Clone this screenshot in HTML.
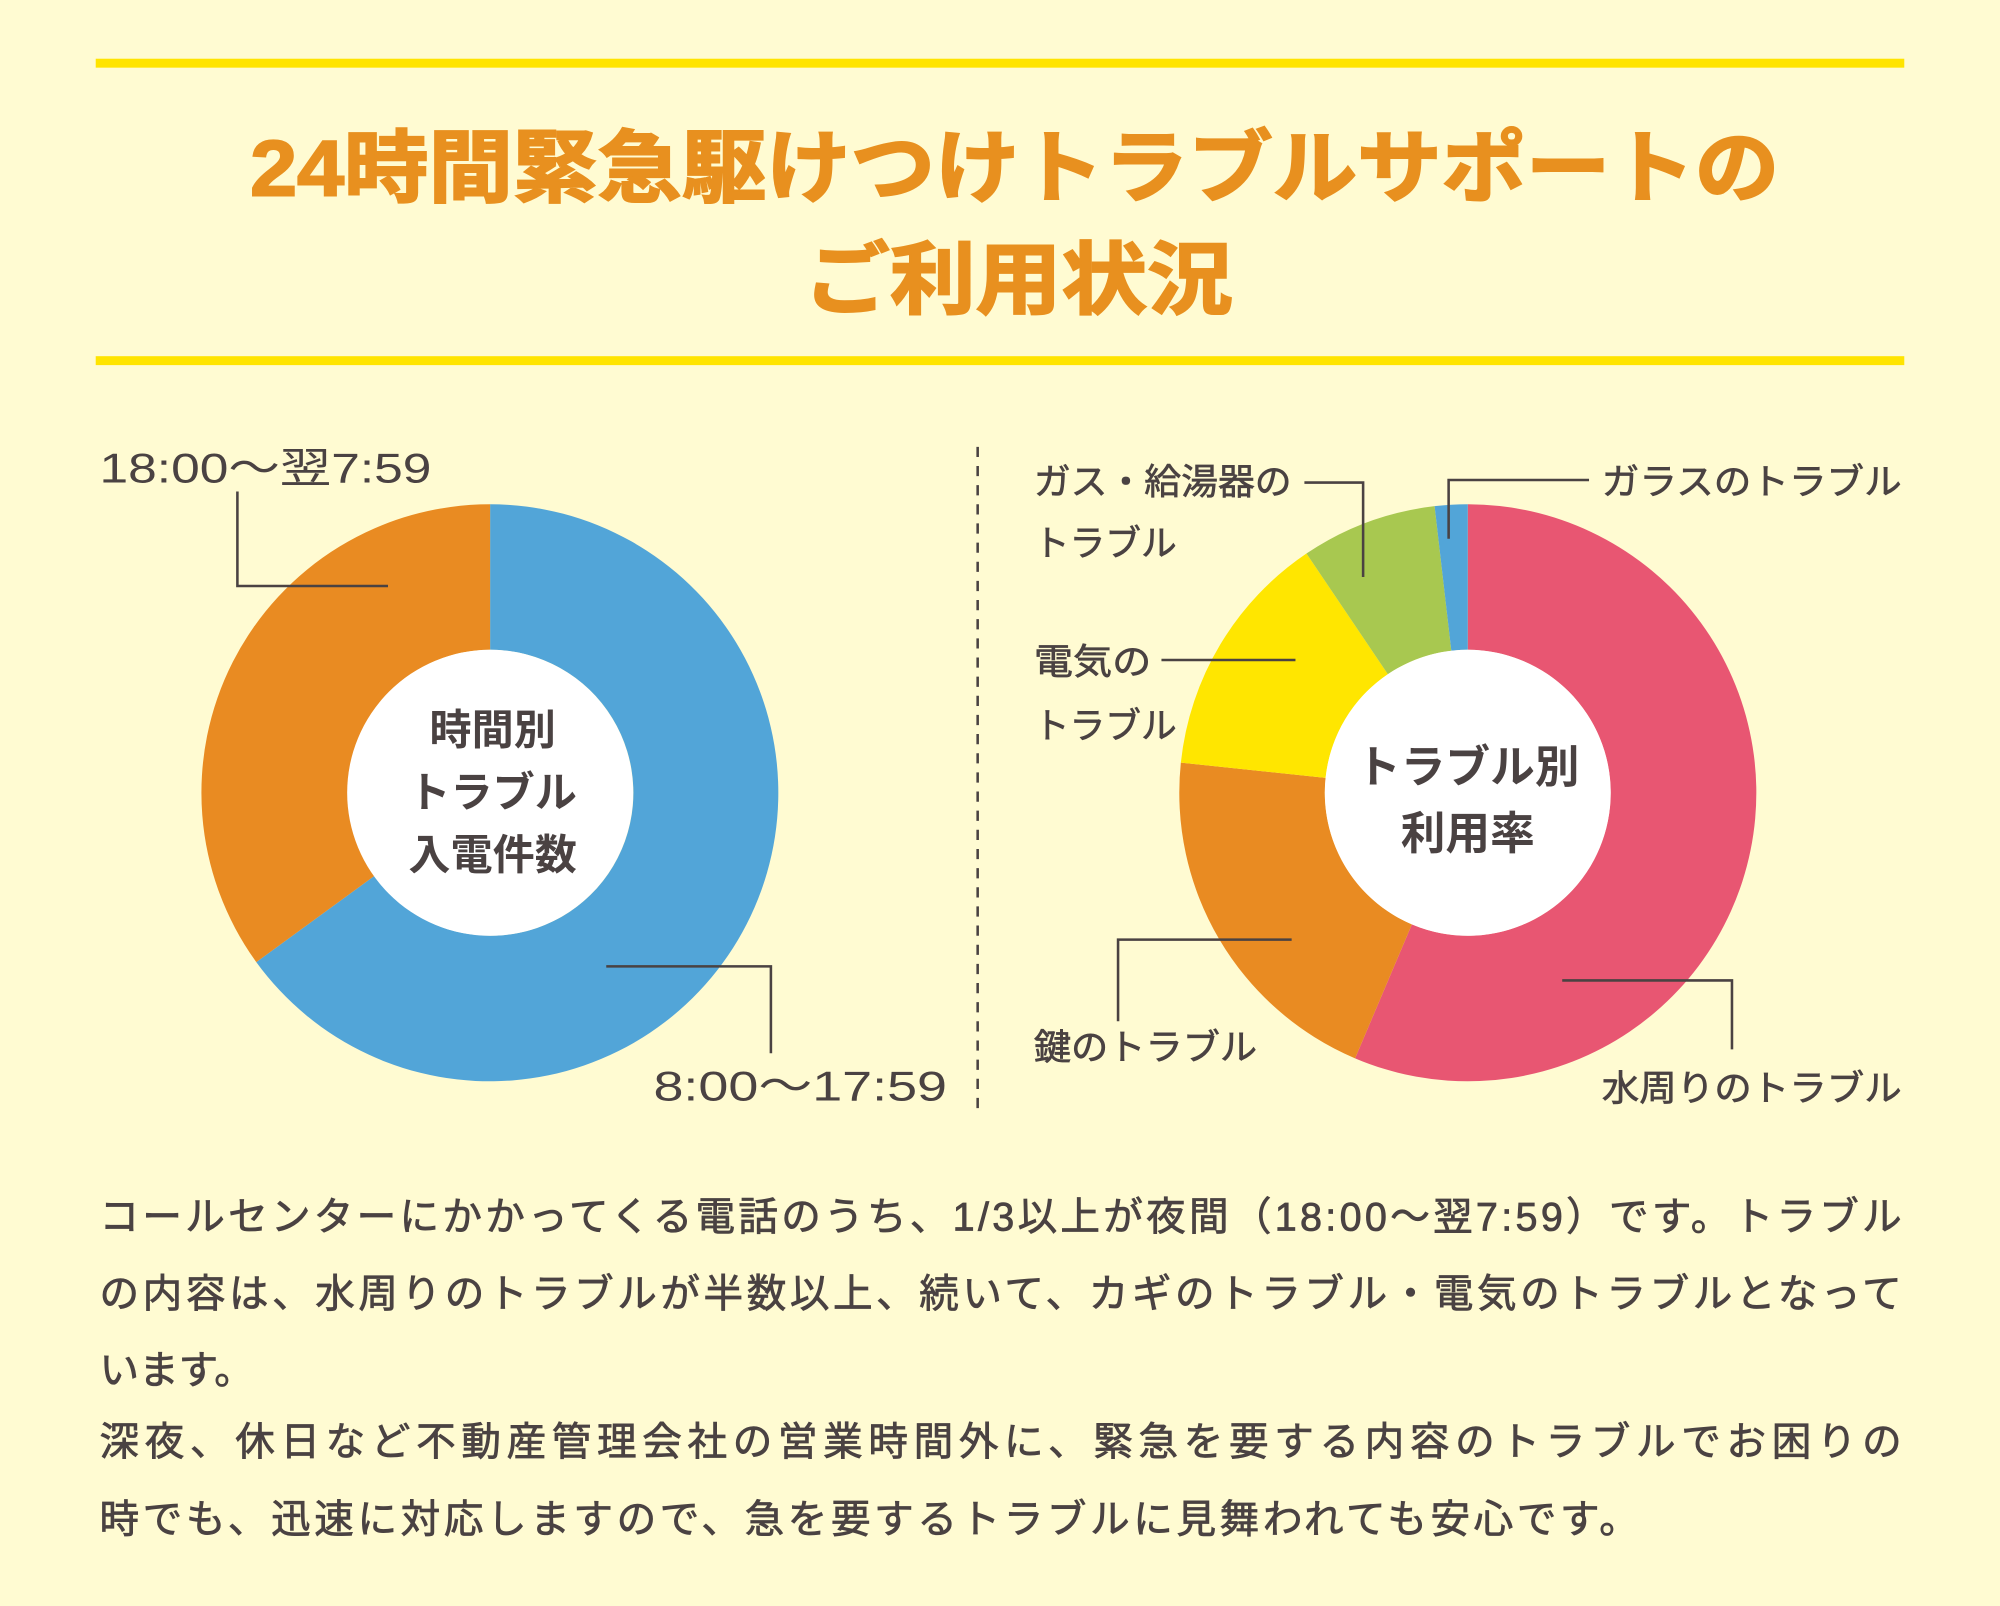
<!DOCTYPE html>
<html><head><meta charset="utf-8"><style>
html,body{margin:0;padding:0;background:#fffbd2;}
svg{display:block}
text{font-family:"Liberation Sans","Noto Sans CJK JP",sans-serif;}
</style></head><body>
<svg width="2000" height="1606" viewBox="0 0 1567 1258" preserveAspectRatio="none" xmlns="http://www.w3.org/2000/svg">
<rect width="1567" height="1258" fill="#fffbd2"/>
<rect x="75" y="46" width="1417" height="7" fill="#ffe400"/>
<rect x="75" y="279" width="1417" height="7" fill="#ffe400"/>
<g fill="#e8901f" font-weight="bold" font-size="62" stroke="#e8901f" stroke-width="1.5">
<text x="196" y="153" textLength="1198" lengthAdjust="spacingAndGlyphs">24時間緊急駆けつけトラブルサポートの</text>
<text x="630" y="241" textLength="336" lengthAdjust="spacingAndGlyphs">ご利用状況</text>
</g>
<!-- left donut -->
<g>
<path d="M384 395 A226 226 0 1 1 200.8 753.6 L293.2 686.2 A112 112 0 1 0 384 509 Z" fill="#52a5d8"/>
<path d="M200.8 753.6 A226 226 0 0 1 384 395 L384 509 A112 112 0 0 0 293.2 686.2 Z" fill="#e98b22"/>
<circle cx="384" cy="621" r="112" fill="#fff"/>
</g>
<g fill="#4a4242" font-weight="bold" font-size="33" text-anchor="middle">
<text x="386" y="583">時間別</text>
<text x="386" y="632">トラブル</text>
<text x="386" y="681">入電件数</text>
</g>
<g fill="#4a4242" font-size="33">
<text x="78" y="378" textLength="260" lengthAdjust="spacingAndGlyphs">18:00〜翌7:59</text>
<text x="512" y="862" textLength="230" lengthAdjust="spacingAndGlyphs">8:00〜17:59</text>
</g>
<g fill="none" stroke="#4a4242" stroke-width="2">
<polyline points="186,385 186,459 304,459"/>
<polyline points="475,757 604,757 604,825"/>
</g>
<line x1="766" y1="350" x2="766" y2="870" stroke="#4a4242" stroke-width="2" stroke-dasharray="8,7"/>
<!-- right donut -->
<g>
<path d="M1150 395 A226 226 0 1 1 1061.7 829 L1106.2 724.1 A112 112 0 1 0 1150 509 Z" fill="#e85672"/>
<path d="M1061.7 829 A226 226 0 0 1 925.2 597.4 L1038.6 609.3 A112 112 0 0 0 1106.2 724.1 Z" fill="#e98b22"/>
<path d="M925.2 597.4 A226 226 0 0 1 1023.6 433.6 L1087.4 528.1 A112 112 0 0 0 1038.6 609.3 Z" fill="#ffe600"/>
<path d="M1023.6 433.6 A226 226 0 0 1 1124 396.5 L1137.1 509.7 A112 112 0 0 0 1087.4 528.1 Z" fill="#a8c850"/>
<path d="M1124 396.5 A226 226 0 0 1 1150 395 L1150 509 A112 112 0 0 0 1137.1 509.7 Z" fill="#52a5d8"/>
<circle cx="1150" cy="621" r="112" fill="#fff"/>
</g>
<g fill="#4a4242" font-weight="bold" font-size="35" text-anchor="middle">
<text x="1150" y="613">トラブル別</text>
<text x="1150" y="665">利用率</text>
</g>
<g fill="#4a4242" font-size="28" stroke="#4a4242" stroke-width="0.5">
<text x="810" y="387" textLength="202" lengthAdjust="spacingAndGlyphs">ガス・給湯器の</text>
<text x="810" y="435" textLength="112" lengthAdjust="spacingAndGlyphs">トラブル</text>
<text x="1255" y="387" textLength="235" lengthAdjust="spacingAndGlyphs">ガラスのトラブル</text>
<text x="810" y="528" textLength="92" lengthAdjust="spacingAndGlyphs">電気の</text>
<text x="810" y="578" textLength="112" lengthAdjust="spacingAndGlyphs">トラブル</text>
<text x="810" y="830" textLength="175" lengthAdjust="spacingAndGlyphs">鍵のトラブル</text>
<text x="1255" y="862" textLength="235" lengthAdjust="spacingAndGlyphs">水周りのトラブル</text>
</g>
<g fill="none" stroke="#4a4242" stroke-width="2">
<polyline points="1022,378 1068,378 1068,452"/>
<polyline points="1245,376 1135,376 1135,422"/>
<polyline points="910,517 1015,517"/>
<polyline points="876,800 876,736 1012,736"/>
<polyline points="1224,768 1357,768 1357,822"/>
</g>
<g fill="#4a4242" font-size="31" stroke="#4a4242" stroke-width="0.6">
<text x="78" y="964" textLength="1412" lengthAdjust="spacing">コールセンターにかかってくる電話のうち、1/3以上が夜間（18:00〜翌7:59）です。トラブル</text>
<text x="78" y="1024" textLength="1412" lengthAdjust="spacing">の内容は、水周りのトラブルが半数以上、続いて、カギのトラブル・電気のトラブルとなって</text>
<text x="78" y="1084">います。</text>
<text x="78" y="1140" textLength="1412" lengthAdjust="spacing">深夜、休日など不動産管理会社の営業時間外に、緊急を要する内容のトラブルでお困りの</text>
<text x="78" y="1201" textLength="1206" lengthAdjust="spacing">時でも、迅速に対応しますので、急を要するトラブルに見舞われても安心です。</text>
</g>
</svg>
</body></html>
